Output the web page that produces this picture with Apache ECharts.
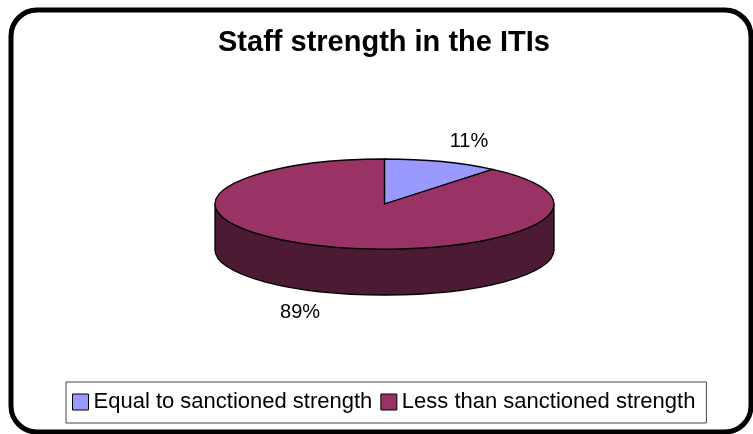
<!DOCTYPE html>
<html><head><meta charset="utf-8">
<script src="https://cdn.jsdelivr.net/npm/echarts@6/dist/echarts.min.js"></script>
<style>html,body{margin:0;padding:0;background:#fff}#c{width:753px;height:434px}</style>
</head><body><div id="c"></div>
<script>
// ---- data ----
const categories = ['Equal to sanctioned strength', 'Less than sanctioned strength'];
const values = [11, 89];
const colors = ['#9999ff', '#993366'];
const sideColors = ['#4d4d80', '#4d1a33'];
const titleText = 'Staff strength in the ITIs';

// ---- layout of the pseudo-3D pie ----
const PIE = {cx: 384.5, cy: 204, rx: 169.5, ry: 45, depth: 46, labelK: 1.47};
const FONT = '"Liberation Sans", Arial, Helvetica, sans-serif';
const total = values.reduce((a, b) => a + b, 0);

function pt(t, dy) { return [PIE.cx + PIE.rx * Math.sin(t), PIE.cy - PIE.ry * Math.cos(t) + (dy || 0)]; }
function f(p) { return p[0].toFixed(2) + ' ' + p[1].toFixed(2); }

function render(idx) {
  return function (params, api) {
    const v = api.value(0);
    let start = 0;
    for (let i = 0; i < idx; i++) start += values[i];
    const a0 = start / total * 2 * Math.PI;
    const a1 = (start + v) / total * 2 * Math.PI;
    const children = [];
    // front side wall (visible part: right extreme -> bottom -> left extreme)
    const lo = Math.max(a0, Math.PI / 2), hi = Math.min(a1, 3 * Math.PI / 2);
    if (hi > lo) {
      const cuts = [lo];
      if (lo < Math.PI && hi > Math.PI) cuts.push(Math.PI);
      cuts.push(hi);
      let d = 'M ' + f(pt(cuts[0]));
      for (let i = 1; i < cuts.length; i++) d += ' A ' + PIE.rx + ' ' + PIE.ry + ' 0 0 1 ' + f(pt(cuts[i]));
      d += ' L ' + f(pt(hi, PIE.depth));
      for (let i = cuts.length - 2; i >= 0; i--) d += ' A ' + PIE.rx + ' ' + PIE.ry + ' 0 0 0 ' + f(pt(cuts[i], PIE.depth));
      d += ' Z';
      children.push({type: 'path', shape: {pathData: d}, style: {fill: sideColors[idx], stroke: '#000', lineWidth: 1.3}, z2: 1});
    }
    // top face
    const large = (a1 - a0) > Math.PI ? 1 : 0;
    const top = 'M ' + PIE.cx + ' ' + PIE.cy + ' L ' + f(pt(a0)) + ' A ' + PIE.rx + ' ' + PIE.ry + ' 0 ' + large + ' 1 ' + f(pt(a1)) + ' Z';
    children.push({type: 'path', shape: {pathData: top}, style: {fill: colors[idx], stroke: '#000', lineWidth: 1.3}, z2: 2});
    // percentage label
    const m = (a0 + a1) / 2;
    const lx = PIE.cx + PIE.labelK * PIE.rx * Math.sin(m);
    const ly = PIE.cy - PIE.labelK * PIE.ry * Math.cos(m) + (Math.cos(m) < 0 ? PIE.depth : 0);
    children.push({type: 'text', x: lx, y: ly, z2: 3,
      style: {text: Math.round(v / total * 100) + '%', fill: '#000', fontSize: 20, fontFamily: FONT,
              align: 'center', verticalAlign: 'middle', textAlign: 'center', textVerticalAlign: 'middle'}});
    return {type: 'group', children: children};
  };
}

const chart = echarts.init(document.getElementById('c'), null, {renderer: 'canvas'});
chart.setOption({
  animation: false,
  backgroundColor: '#fff',
  title: {
    text: titleText, left: 218, top: 28, padding: 0,
    textStyle: {fontSize: 29, fontWeight: 'bold', fontFamily: FONT, color: '#000'}
  },
  legend: {
    data: categories, left: 66, top: 382, padding: [9, 11, 10, 6],
    borderColor: '#444', borderWidth: 1, icon: 'rect', itemWidth: 16, itemHeight: 16, itemGap: 8,
    itemStyle: {borderColor: '#000', borderWidth: 1},
    textStyle: {fontSize: 22, fontFamily: FONT, color: '#000', padding: [0, 0, 0, 0]},
    selectedMode: false
  },
  graphic: [{
    type: 'rect', shape: {x: 11, y: 10, width: 740, height: 422, r: 26},
    style: {fill: 'none', stroke: '#000', lineWidth: 5}, silent: true, z: -1
  }],
  series: categories.map((name, i) => ({
    type: 'custom', name: name, coordinateSystem: 'none', renderItem: render(i),
    data: [[values[i]]], itemStyle: {color: colors[i]}, silent: true
  }))
});
</script></body></html>
